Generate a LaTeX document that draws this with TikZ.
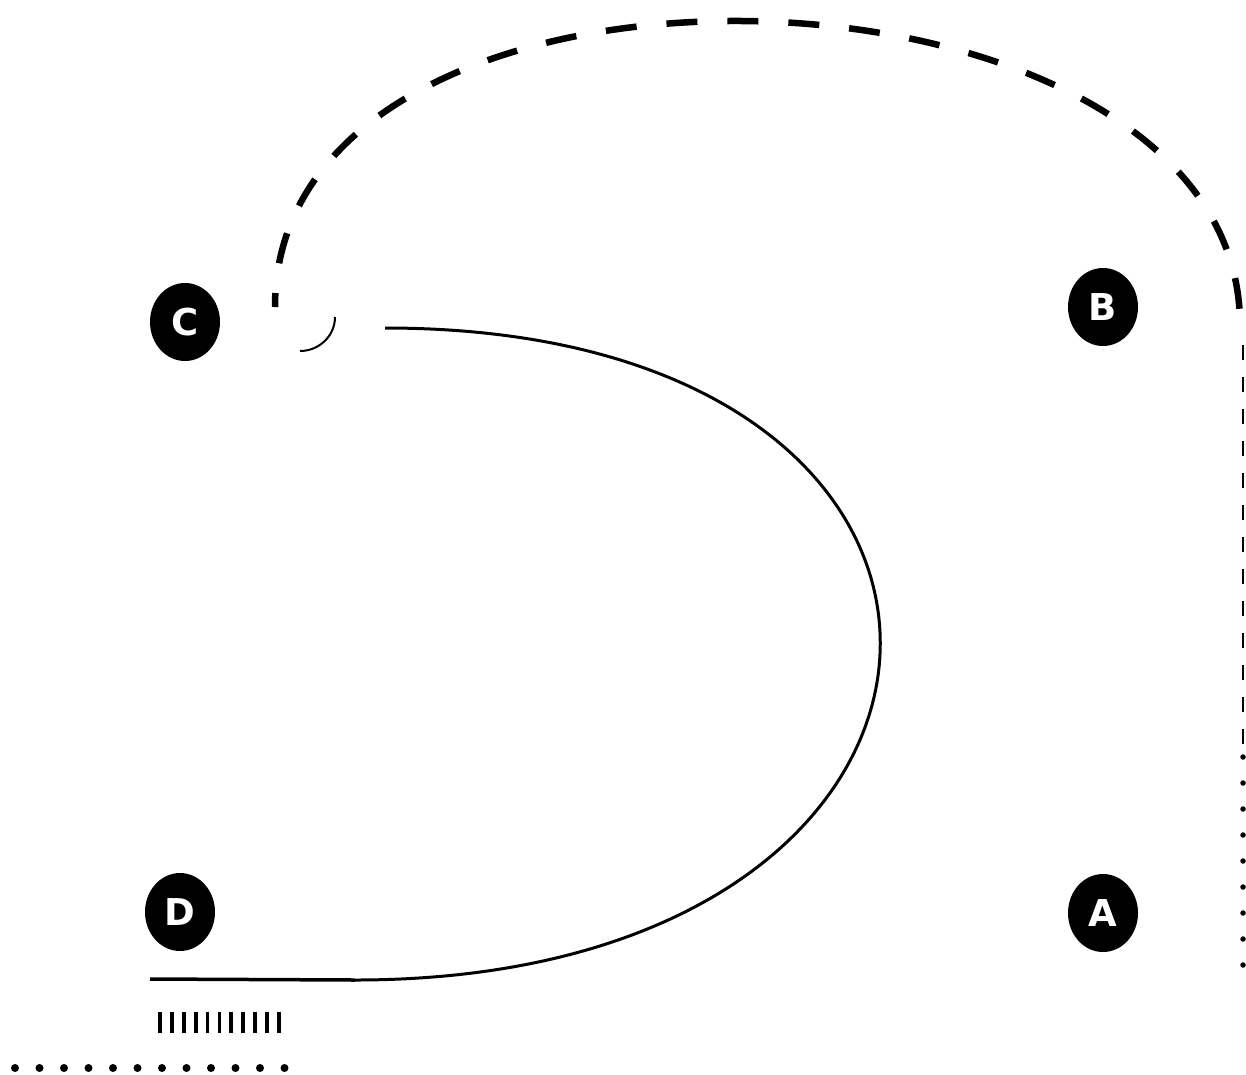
\documentclass[tikz,border=0pt]{standalone}
\usepackage{fontspec}
\newfontfamily\nodefont{DejaVu Sans}
\usetikzlibrary{shapes.geometric}
\tikzset{
  vtx/.style={ellipse, fill=black, text=white, inner sep=0pt,
    minimum width=70pt, minimum height=78pt,
    font=\nodefont\bfseries\fontsize{37}{37}\selectfont},
  bigdash/.style={line width=6.5pt, dash pattern=on 31pt off 30pt},
  thinline/.style={line width=3pt},
}
\begin{document}
\begin{tikzpicture}[x=1pt,y=-1pt]
\useasboundingbox (0,0) rectangle (1246,1074);
\node[vtx] (A) at (1103,913) {A};
\node[vtx] (B) at (1103,307) {B};
\node[vtx] (C) at (185,322) {C};
\node[vtx] (D) at (180,912) {D};

% coordinates for free ends
\coordinate (arcS) at (275,307);
\coordinate (arcE) at (1240,325);
\coordinate (smS) at (335,317);
\coordinate (smE) at (300,351);
\coordinate (cvS) at (385,328);
\coordinate (cvE) at (355,980);
\coordinate (hlS) at (150,979);
\coordinate (vdS) at (1243,345);
\coordinate (vdE) at (1243,747);
\coordinate (vpS) at (1243,757);
\coordinate (vpE) at (1243,966);
\coordinate (tkS) at (158,1022.5);
\coordinate (tkE) at (281.5,1022.5);
\coordinate (bdS) at (15,1068);
\coordinate (bdE) at (287,1068);

% thick dashed arc over the top
\draw[bigdash, dash phase=17pt] (arcS) .. controls (275,-92) and (1240,-62) .. (arcE);
% small arc near C
\draw[line width=2pt] (smS) .. controls (335,336) and (319,351) .. (smE);
% big solid curve
\draw[thinline] (cvS) .. controls (1065,328) and (1035,980) .. (cvE);
% horizontal line
\draw[line width=3.5pt] (hlS) -- (cvE);
% right thin dashed line
\draw[line width=2.7pt, dash pattern=on 15pt off 17pt] (vdS) -- (vdE);
% right dotted line
\draw[line width=5.5pt, line cap=round, dash pattern=on 0pt off 26pt] (vpS) -- (vpE);
% ticks
\draw[line width=21pt, dash pattern=on 3.8pt off 8.1pt] (tkS) -- (tkE);
% bottom dots
\draw[line width=8pt, line cap=round, dash pattern=on 0pt off 24.5pt] (bdS) -- (bdE);
\end{tikzpicture}
\end{document}
